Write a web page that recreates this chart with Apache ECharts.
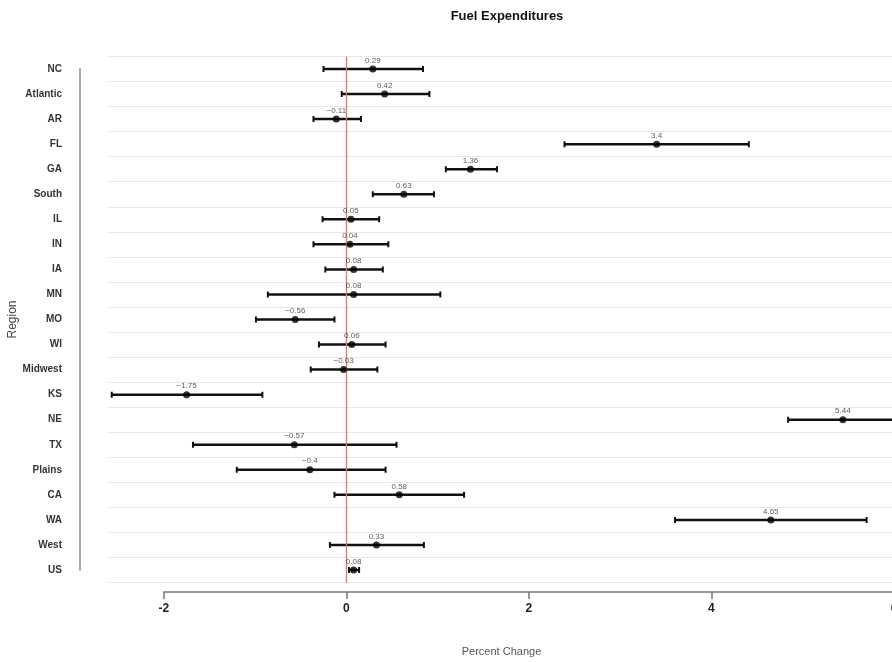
<!DOCTYPE html>
<html><head><meta charset="utf-8">
<script src="https://cdn.jsdelivr.net/npm/echarts@6/dist/echarts.min.js"></script>
<style>html,body{margin:0;padding:0;background:#fff}#c{width:892px;height:662px}</style>
</head><body><div id="c"></div>
<script>
const categories = ['NC','Atlantic','AR','FL','GA','South','IL','IN','IA','MN','MO','WI','Midwest','KS','NE','TX','Plains','CA','WA','West','US'];
const estimates = [0.29,0.42,-0.11,3.4,1.36,0.63,0.05,0.04,0.08,0.08,-0.56,0.06,-0.03,-1.75,5.44,-0.57,-0.4,0.58,4.65,0.33,0.08];
const lower = [-0.25,-0.05,-0.36,2.39,1.09,0.29,-0.26,-0.36,-0.23,-0.86,-0.99,-0.30,-0.39,-2.57,4.84,-1.68,-1.20,-0.13,3.60,-0.18,0.03];
const upper = [0.84,0.91,0.16,4.41,1.65,0.96,0.36,0.46,0.40,1.03,-0.13,0.43,0.34,-0.92,6.04,0.55,0.43,1.29,5.70,0.85,0.14];
const xTicks = [-2,0,2,4,6];

const chart = echarts.init(document.getElementById('c'), null, {renderer:'canvas'});
const font = 'Liberation Sans, Arial, sans-serif';
const barData = categories.map((c,i)=>[lower[i], upper[i], i]);
const ptData = categories.map((c,i)=>[estimates[i], i]);

chart.setOption({
  animation:false,
  title:{text:'Fuel Expenditures', left:502, top:5, textAlign:'center',
    textStyle:{fontFamily:font, fontSize:13, fontWeight:'bold', color:'#111'}},
  grid:[
    {left:109, top:56.5, width:785, height:526, outerBoundsMode:'none', containLabel:false},
    {left:80, top:69, width:1, height:501, outerBoundsMode:'none', containLabel:false},
    {left:163.8, top:591, width:730.2, height:1, outerBoundsMode:'none', containLabel:false}
  ],
  xAxis:[
    {gridIndex:0, type:'value', min:-2.6, max:6, axisLine:{show:false}, axisTick:{show:false},
     axisLabel:{show:false}, splitLine:{show:false},
     name:'Percent Change', nameLocation:'middle', nameGap:64,
     nameTextStyle:{fontFamily:font, fontSize:11, color:'#555'}},
    {gridIndex:1, type:'value', show:false},
    {gridIndex:2, type:'value', min:xTicks[0], max:xTicks[xTicks.length-1], interval:2, position:'bottom',
     axisLine:{show:true, lineStyle:{color:'#777', width:1.5}},
     axisTick:{show:true, length:7, lineStyle:{color:'#777', width:1.5}},
     axisLabel:{show:true, margin:11, fontFamily:font, fontSize:12, fontWeight:'bold', color:'#222',
       showMinLabel:true, showMaxLabel:true, hideOverlap:false},
     splitLine:{show:false}}
  ],
  yAxis:[
    {gridIndex:0, type:'category', data:categories, inverse:true, boundaryGap:true,
     axisLine:{show:false}, axisTick:{show:false}, axisLabel:{show:false},
     splitLine:{show:true, lineStyle:{color:'#e6e6e6', width:1}}},
    {gridIndex:1, type:'category', data:categories, inverse:true, boundaryGap:false,
     axisLine:{show:true, lineStyle:{color:'#aaa', width:2}}, axisTick:{show:false},
     axisLabel:{show:true, margin:18, fontFamily:font, fontSize:10, fontWeight:'bold', color:'#333', interval:0},
     name:'Region', nameLocation:'middle', nameGap:56, nameRotate:90,
     nameTextStyle:{fontFamily:font, fontSize:12, color:'#444'}},
    {gridIndex:2, type:'value', show:false}
  ],
  series:[
    {type:'custom', xAxisIndex:0, yAxisIndex:0, clip:true, data:barData,
     encode:{x:[0,1], y:2},
     renderItem:function(params, api){
       const a = api.coord([api.value(0), api.value(2)]);
       const b = api.coord([api.value(1), api.value(2)]);
       const h = 3;
       const st = {stroke:'#111', lineWidth:2.5};
       return {type:'group', children:[
         {type:'line', shape:{x1:a[0], y1:a[1], x2:b[0], y2:b[1]}, style:st},
         {type:'line', shape:{x1:a[0], y1:a[1]-h, x2:a[0], y2:a[1]+h}, style:{stroke:'#111', lineWidth:2}},
         {type:'line', shape:{x1:b[0], y1:b[1]-h, x2:b[0], y2:b[1]+h}, style:{stroke:'#111', lineWidth:2}}
       ]};
     }},
    {type:'scatter', xAxisIndex:0, yAxisIndex:0, data:ptData, symbolSize:7,
     itemStyle:{color:'#000'}, z:5,
     label:{show:true, position:'top', distance:1, fontFamily:font, fontSize:8, color:'#333',
       formatter:p=>String(estimates[p.dataIndex]).replace('-', '\u2212')},
     markLine:{silent:true, symbol:'none', label:{show:false},
       lineStyle:{color:'#dd7766', width:1.3, type:'solid'},
       data:[{xAxis:0}]}}
  ]
});
</script></body></html>
